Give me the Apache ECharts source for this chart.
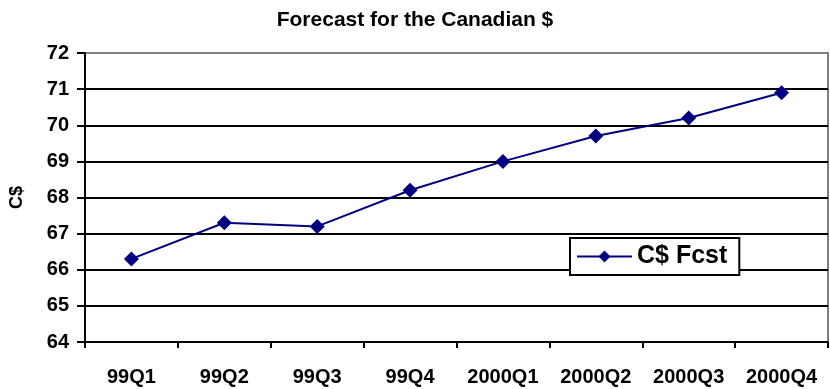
<!DOCTYPE html>
<html>
<head>
<meta charset="utf-8">
<style>
  html, body { margin: 0; padding: 0; background: #fff; }
  #chart { width: 830px; height: 389px; }
</style>
<script src="https://cdn.jsdelivr.net/npm/echarts@6/dist/echarts.min.js"></script>
</head>
<body>
<div id="chart"></div>
<script>
// Quarterly forecast of the Canadian dollar (US cents)
const quarters = ['99Q1', '99Q2', '99Q3', '99Q4', '2000Q1', '2000Q2', '2000Q3', '2000Q4'];
const fcstValues = [66.3, 67.3, 67.2, 68.2, 69.0, 69.7, 70.2, 70.9];
const seriesName = 'C$ Fcst';
const yTicks = { min: 64, max: 72, step: 1 };

const FONT = 'Liberation Sans, Arial, sans-serif';

// horizontal rules are black, the top one doubles as the grey plot frame
const ruleColors = [];
for (let v = yTicks.min; v <= yTicks.max; v += yTicks.step) {
  ruleColors.push(v === yTicks.max ? '#808080' : '#000000');
}

const chart = echarts.init(document.getElementById('chart'), null, { renderer: 'canvas' });
chart.setOption({
  animation: false,
  backgroundColor: '#ffffff',
  title: {
    text: 'Forecast for the Canadian $',
    left: 'center',
    top: 5,
    textStyle: { fontFamily: FONT, fontWeight: 'bold', fontSize: 21, color: '#000' }
  },
  grid: {
    left: 85, right: 2, top: 53, bottom: 47,
    show: true, borderColor: '#808080', borderWidth: 2, backgroundColor: '#fff'
  },
  legend: {
    left: 570, top: 238,
    data: [seriesName],
    itemWidth: 55, itemHeight: 15,
    itemGap: 5,
    padding: [6, 12, 6, 6],
    backgroundColor: '#fff',
    borderColor: '#000', borderWidth: 2,
    textStyle: { fontFamily: FONT, fontWeight: 'bold', fontSize: 25, color: '#000' }
  },
  xAxis: {
    type: 'category',
    data: quarters,
    boundaryGap: true,
    axisLine: { lineStyle: { color: '#000', width: 2 } },
    axisTick: { show: true, length: 6, lineStyle: { color: '#000', width: 2 } },
    axisLabel: { margin: 25, fontFamily: FONT, fontWeight: 'bold', fontSize: 20, color: '#000' },
    splitLine: { show: false }
  },
  yAxis: {
    type: 'value',
    min: yTicks.min, max: yTicks.max, interval: yTicks.step,
    name: 'C$',
    nameLocation: 'middle',
    nameRotate: 90,
    nameGap: 59,
    nameTextStyle: { fontFamily: FONT, fontWeight: 'bold', fontSize: 18, color: '#000' },
    axisLine: { show: true, lineStyle: { color: '#000', width: 2 } },
    axisTick: { show: true, length: 8, lineStyle: { color: '#000', width: 2 } },
    axisLabel: { margin: 16, fontFamily: FONT, fontWeight: 'bold', fontSize: 20, color: '#000' },
    splitLine: { show: true, lineStyle: { color: ruleColors, width: 2 } }
  },
  series: [{
    name: seriesName,
    type: 'line',
    data: fcstValues,
    symbol: 'diamond',
    symbolSize: 15,
    lineStyle: { color: '#000080', width: 2 },
    itemStyle: { color: '#000080', borderWidth: 0 },
    emphasis: { disabled: true }
  }]
});
</script>
</body>
</html>
